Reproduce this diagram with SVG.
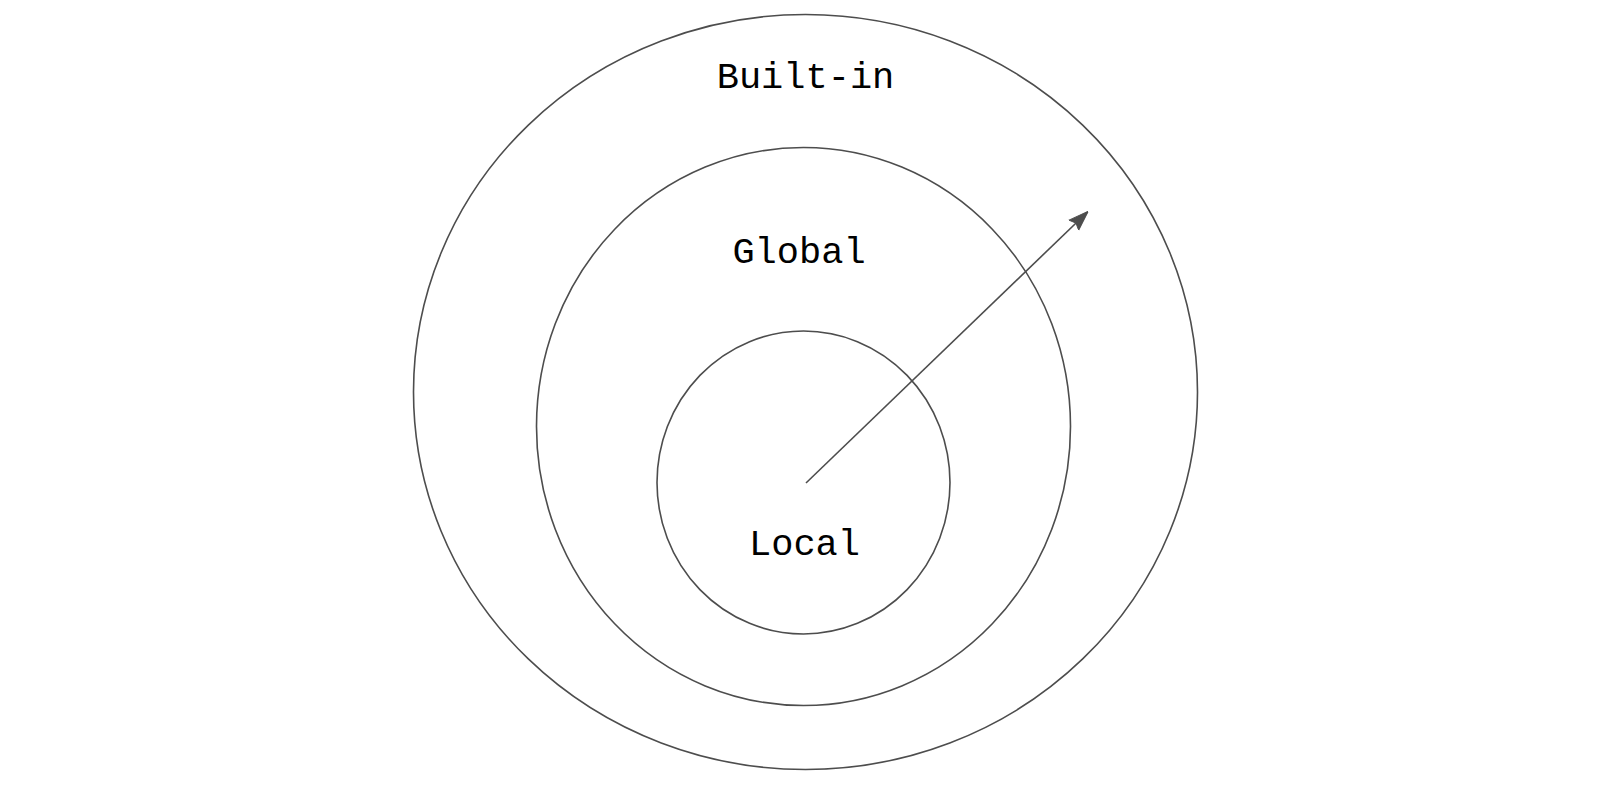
<svg xmlns="http://www.w3.org/2000/svg" width="1618" height="788" viewBox="0 0 1618 788">
<defs>
<style>
.scope{fill:none;stroke:#4d4d4d;stroke-width:1.6}
.lbl{font-family:"Liberation Mono","Courier New",monospace;font-size:37px;fill:#000;text-anchor:middle}
.conn{stroke:#4d4d4d;stroke-width:1.6;fill:none}
</style>
<marker id="arr" viewBox="0 0 20 16" refX="19" refY="8" markerWidth="20" markerHeight="16" markerUnits="userSpaceOnUse" orient="auto">
<path d="M0,1 L20,8 L0,15 L3,8 Z" fill="#4d4d4d" stroke="#4d4d4d" stroke-width="1" stroke-linejoin="miter"/>
</marker>
</defs>
<rect width="1618" height="788" fill="#fff"/>
<g id="builtin">
<ellipse class="scope" cx="805.5" cy="392" rx="392" ry="377.5"/>
<text class="lbl" x="805.5" y="88">Built-in</text>
</g>
<g id="global">
<ellipse class="scope" cx="803.5" cy="426.5" rx="267" ry="279"/>
<text class="lbl" x="799" y="263">Global</text>
</g>
<g id="local">
<ellipse class="scope" cx="803.5" cy="482.5" rx="146.5" ry="151.5"/>
<text class="lbl" x="804.5" y="555">Local</text>
</g>
<g id="connectors">
<line class="conn" x1="806" y1="483" x2="1087.5" y2="212" marker-end="url(#arr)"/>
</g>
</svg>
